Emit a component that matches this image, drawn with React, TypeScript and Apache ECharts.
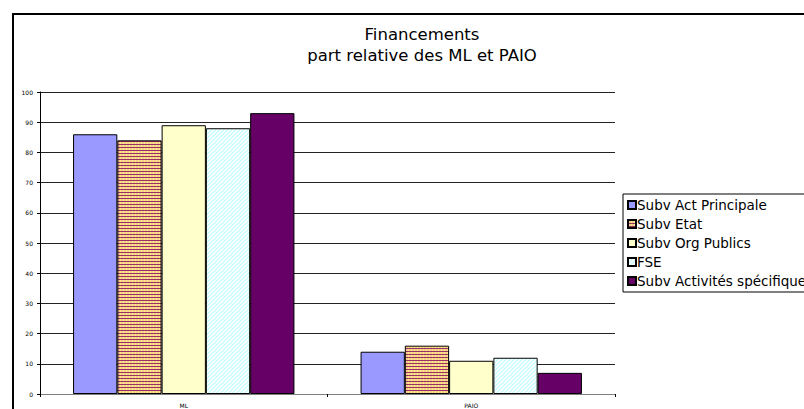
import React, { useEffect, useRef } from "react";
import * as echarts from "echarts";

const categories = ["ML", "PAIO"];
const seriesNames = [
  "Subv Act Principale",
  "Subv Etat",
  "Subv Org Publics",
  "FSE",
  "Subv Activités spécifiques",
];
const subvActPrincipale = [86, 14];
const subvEtat = [84, 16];
const subvOrgPublics = [89, 11];
const fse = [88, 12];
const subvActivitesSpecifiques = [93, 7];
const seriesValues = [subvActPrincipale, subvEtat, subvOrgPublics, fse, subvActivitesSpecifiques];
const yTicks = { min: 0, max: 100, interval: 10 };

function makeEtatPattern(): HTMLCanvasElement {
  const c = document.createElement("canvas");
  c.width = 6;
  c.height = 3;
  const ctx = c.getContext("2d")!;
  ctx.fillStyle = "#F6C98E";
  ctx.fillRect(0, 0, 6, 3);
  ctx.fillStyle = "#FFF27A";
  ctx.fillRect(0, 1, 1, 2);
  ctx.fillRect(3, 1, 1, 2);
  ctx.fillStyle = "#993366";
  ctx.fillRect(0, 0, 6, 1);
  return c;
}

function makeFsePattern(): HTMLCanvasElement {
  const c = document.createElement("canvas");
  c.width = 4;
  c.height = 4;
  const ctx = c.getContext("2d")!;
  for (let x = 0; x < 4; x++) {
    for (let y = 0; y < 4; y++) {
      ctx.fillStyle = (x + y) % 4 < 2 ? "#CCFFFF" : "#FFFFFF";
      ctx.fillRect(x, y, 1, 1);
    }
  }
  return c;
}

export default function App() {
  const ref = useRef<HTMLDivElement>(null);
  useEffect(() => {
    if (!ref.current) return;
    const chart = echarts.init(ref.current, null, { renderer: "svg" });
    const fills: any[] = [
      "#9999FF",
      { image: makeEtatPattern(), repeat: "repeat" },
      "#FFFFCC",
      { image: makeFsePattern(), repeat: "repeat" },
      "#660066",
    ];
    const font = "DejaVu Sans";
    const frameAxis = {
      show: true,
      axisLine: { show: true, onZero: false, lineStyle: { color: "#000", width: 2 } },
      axisTick: { show: false },
      axisLabel: { show: false },
      splitLine: { show: false },
    };
    chart.setOption({
      animation: false,
      backgroundColor: "#fff",
      title: {
        text: "Financements\npart relative des ML et PAIO",
        left: 417,
        top: 19,
        textAlign: "center",
        textStyle: {
          fontFamily: font,
          fontSize: 16.5,
          fontWeight: "normal",
          color: "#000",
          lineHeight: 21,
        },
      },
      legend: {
        orient: "vertical",
        left: 623,
        top: 194,
        padding: [4, 6, 4, 4],
        itemGap: 5,
        itemWidth: 8,
        itemHeight: 8,
        backgroundColor: "#fff",
        borderColor: "#000",
        borderWidth: 1,
        borderRadius: 0,
        icon: "rect",
        textStyle: {
          fontFamily: font,
          fontSize: 13.5,
          color: "#000",
          lineHeight: 14,
          padding: [0, 0, 0, -4],
        },
        data: seriesNames,
      },
      grid: [
        { left: 40, top: 92, width: 575, height: 302, containLabel: false },
        { left: 13, top: 14, width: 1000, height: 1000, containLabel: false },
      ],
      xAxis: [
        {
          type: "category",
          data: categories,
          gridIndex: 0,
          axisLine: { show: true, lineStyle: { color: "#808080", width: 1 } },
          axisTick: { show: true, length: 3, alignWithLabel: false, lineStyle: { color: "#000" } },
          axisLabel: { fontFamily: font, fontSize: 6, color: "#000", margin: 8 },
          splitLine: { show: false },
        },
        { type: "value", gridIndex: 1, position: "top", min: 0, max: 1, ...frameAxis },
      ],
      yAxis: [
        {
          type: "value",
          gridIndex: 0,
          min: yTicks.min,
          max: yTicks.max,
          interval: yTicks.interval,
          axisLine: { show: true, lineStyle: { color: "#000", width: 1 } },
          axisTick: { show: true, length: 3, lineStyle: { color: "#000" } },
          axisLabel: { fontFamily: font, fontSize: 6, color: "#000", margin: 7 },
          splitLine: { show: true, lineStyle: { color: "#222", width: 1 } },
        },
        { type: "value", gridIndex: 1, position: "left", min: 0, max: 1, ...frameAxis },
      ],
      series: seriesNames.map((name, i) => ({
        name,
        type: "bar",
        xAxisIndex: 0,
        yAxisIndex: 0,
        data: seriesValues[i],
        barGap: "0%",
        barCategoryGap: "23%",
        itemStyle: { color: fills[i], borderColor: "#000", borderWidth: 1 },
      })),
    });
    return () => chart.dispose();
  }, []);
  return (
    <div
      ref={ref}
      style={{ position: "fixed", left: 0, top: 0, width: 804, height: 409 }}
    />
  );
}
